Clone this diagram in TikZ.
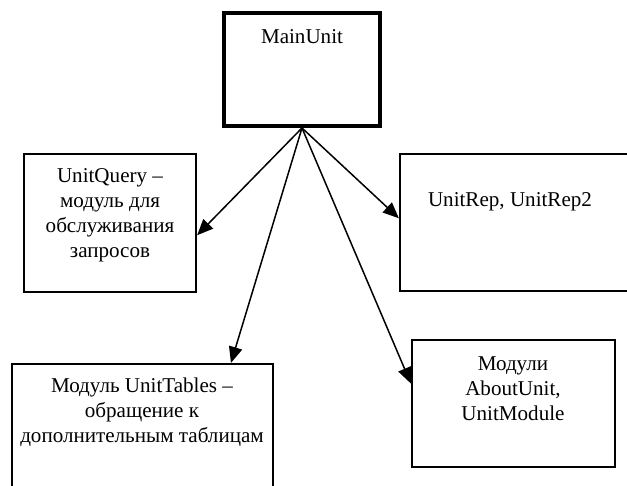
\documentclass[tikz,border=0pt]{standalone}
\usepackage{fontspec}
\setmainfont{Liberation Serif}
\usetikzlibrary{arrows.meta}
\colorlet{boxBorder}{black}
\tikzset{
  unitbox/.style={draw=boxBorder, line width=0.045cm, inner sep=0pt},
  unittext/.style={align=center, font=\fontsize{12}{14.2}\selectfont, inner sep=0pt},
  uses/.style={line width=0.03cm, -{Triangle[length=0.32cm, width=0.27cm]}}
}

\begin{document}
\begin{tikzpicture}[x=0.02cm, y=-0.02cm]
   \useasboundingbox (0,0) rectangle (627,486);
   \clip (0,0) rectangle (627,486);

   \node[unitbox, line width=0.08cm, minimum width=3.12cm, minimum height=2.26cm] (main) at (302,69.5) {};
   \node[unitbox, minimum width=3.44cm, minimum height=2.76cm] (query) at (110,223) {};
   \node[unitbox, minimum width=4.8cm, minimum height=2.74cm] (rep) at (520,222.5) {};
   \node[unitbox, minimum width=5.22cm, minimum height=2.72cm] (tables) at (142.5,432) {};
   \node[unitbox, minimum width=4.06cm, minimum height=2.54cm] (about) at (513.5,403.5) {};

   \node[unittext] (mainText) at (302,37) {MainUnit};
   \node[unittext] (queryText) at (110,215) {UnitQuery --\\модуль для\\обслуживания\\запросов};
   \node[unittext] (repText) at (510,202) {UnitRep, UnitRep2};
   \node[unittext] (tablesText) at (142,412) {Модуль UnitTables --\\обращение к\\дополнительным таблицам};
   \node[unittext] (aboutText) at (513,389) {Модули\\AboutUnit,\\UnitModule};

   \foreach \target in {query.-8, rep.178, tables.38, about.169}
   {
      \draw[uses] (main.south) -- (\target);
   }

\end{tikzpicture}
\end{document}
